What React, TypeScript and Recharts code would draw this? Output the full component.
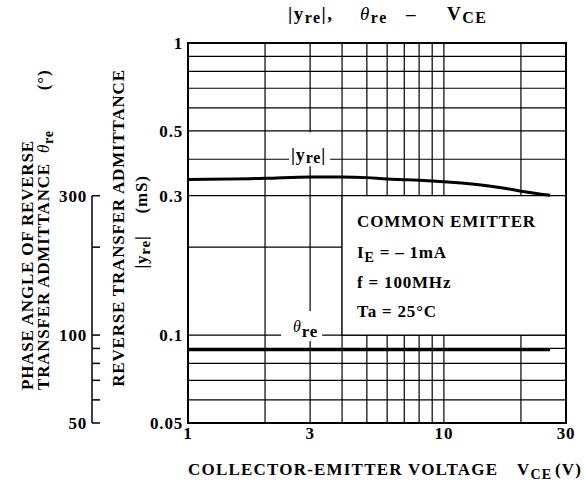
import { ComposedChart, Line, XAxis, YAxis, CartesianGrid, ReferenceArea, ReferenceDot } from 'recharts'

const SERIF = '"Liberation Serif", "Times New Roman", serif'

// collector-emitter voltage V_CE (V)
const vce = [1, 2, 3, 4, 5, 6, 7, 8, 9, 10, 17, 20, 26]
// |yre| (mS)
const yreMag = [0.341, 0.344, 0.348, 0.348, 0.346, 0.342, 0.3405, 0.339, 0.337, 0.335, 0.319, 0.311, 0.301]
// theta re (deg)
const thetaRe = [89, 89, 89, 89, 89, 89, 89, 89, 89, 89, 89, 89, 89]

const vTicks = [1, 2, 3, 4, 5, 6, 7, 8, 9, 10, 20, 30]
const vLabels = [1, 3, 10, 30]
const yTicks = [0.05, 0.06, 0.07, 0.08, 0.09, 0.1, 0.2, 0.3, 0.4, 0.5, 0.6, 0.7, 0.8, 0.9, 1]
const yLabels = [0.05, 0.1, 0.3, 0.5, 1]
const thetaTicks = [50, 60, 70, 80, 90, 100, 200, 300]
const thetaLabels = [50, 100, 300]

const data = vce.map((v, i) => ({ v, yre: yreMag[i], theta: thetaRe[i] }))

const txt = { fontFamily: SERIF, fontWeight: 700, fill: '#000', letterSpacing: 0.8 }

// tick y positions, filled in order so each tick can join the one below it
const thetaTickY: number[] = []

function ThetaTick(props: any) {
  const { x, y, payload, index } = props
  thetaTickY[index] = y
  const below = index > 0 ? thetaTickY[index - 1] : y
  return (
    <g>
      <line x1={x - 8} y1={y} x2={x} y2={y} stroke="#000" strokeWidth={1.5} />
      <line x1={x - 8} y1={y} x2={x - 8} y2={below} stroke="#000" strokeWidth={1.5} />
      {thetaLabels.includes(payload.value) && (
        <text x={x - 13} y={y + 6} textAnchor="end" fontSize={17} {...txt}>
          {payload.value}
        </text>
      )}
    </g>
  )
}

function ThetaAxisTitle({ viewBox }: any) {
  const b1 = viewBox.x + 33
  const b2 = viewBox.x + 49
  const y0 = 390
  return (
    <g fontSize={17} {...txt}>
      <text x={b1} y={y0} transform={`rotate(-90 ${b1} ${y0})`}>
        PHASE ANGLE OF REVERSE
      </text>
      <text x={b2} y={y0} transform={`rotate(-90 ${b2} ${y0})`}>
        TRANSFER ADMITTANCE
        <tspan dx={10} fontStyle="italic" fontWeight={400}>θ</tspan>
        <tspan dy={4} fontSize={14}>re</tspan>
        <tspan dx={40} dy={-4}>(°)</tspan>
      </text>
    </g>
  )
}

function MagAxisTitle({ viewBox }: any) {
  const b1 = viewBox.x + 24
  const b2 = viewBox.x + 47
  return (
    <g fontSize={17} {...txt}>
      <text x={b1} y={228} textAnchor="middle" transform={`rotate(-90 ${b1} 228)`}>
        REVERSE TRANSFER ADMITTANCE
      </text>
      <text x={b2} y={222} textAnchor="middle" transform={`rotate(-90 ${b2} 222)`}>
        |y<tspan dy={3} fontSize={15}>re</tspan>
        <tspan dy={-3}>|</tspan>
        <tspan dx={22}>(mS)</tspan>
      </text>
    </g>
  )
}

function XTitle({ viewBox }: any) {
  const { x, y } = viewBox
  return (
    <g fontSize={17} {...txt} letterSpacing={1.2}>
      <text x={x} y={y + 52}>COLLECTOR-EMITTER</text>
      <text x={x + 220} y={y + 52}>VOLTAGE</text>
      <text x={x + 329} y={y + 52}>
        V<tspan dy={4} fontSize={14}>CE</tspan>
      </text>
      <text x={x + 367} y={y + 52}>(V)</text>
    </g>
  )
}

function Conditions({ viewBox }: any) {
  const x = viewBox.x + 15
  const y = viewBox.y
  return (
    <g fontSize={17} {...txt}>
      <text x={x} y={y + 31}>COMMON EMITTER</text>
      <text x={x} y={y + 62}>
        I<tspan dy={4} fontSize={14}>E</tspan>
        <tspan dy={-4}> = – 1mA</tspan>
      </text>
      <text x={x} y={y + 92}>f = 100MHz</text>
      <text x={x} y={y + 121}>Ta = 25°C</text>
    </g>
  )
}

function YreTag({ cx, cy }: any) {
  return (
    <g>
      <rect x={cx - 21} y={cy - 27} width={41} height={34} fill="#fff" />
      <text x={cx - 19} y={cy + 2} fontSize={18} {...txt}>
        |y<tspan dy={2} fontSize={16}>re</tspan>
        <tspan dy={-2}>|</tspan>
      </text>
    </g>
  )
}

function ThetaTag({ cx, cy }: any) {
  return (
    <g>
      <rect x={cx - 29} y={cy - 24} width={41} height={30} fill="#fff" />
      <text x={cx - 17} y={cy - 3} fontSize={16} {...txt}>
        <tspan fontStyle="italic" fontWeight={400}>θ</tspan>
        <tspan dy={5} fontSize={17}>re</tspan>
      </text>
    </g>
  )
}

function Title() {
  return (
    <svg width={584} height={40} style={{ position: 'absolute', left: 0, top: 0 }}>
      <g fontSize={19} {...txt} letterSpacing={1.5}>
        <text x={288} y={20}>
          |y<tspan dy={3} fontSize={16}>re</tspan>
          <tspan dy={-3}>|,</tspan>
        </text>
        <text x={360} y={20}>
          <tspan fontStyle="italic" fontWeight={400}>θ</tspan>
          <tspan dy={3} fontSize={16}>re</tspan>
        </text>
        <text x={406} y={20}>–</text>
        <text x={447} y={20}>
          V<tspan dy={3} fontSize={16}>CE</tspan>
        </text>
      </g>
    </svg>
  )
}

export default function App() {
  return (
    <div style={{ position: 'absolute', left: 0, top: 0, width: 584, height: 490, background: '#fff' }}>
      <ComposedChart width={584} height={490} data={data} margin={{ top: 43, right: 18, bottom: 0, left: 0 }}>
        <CartesianGrid yAxisId="mag" stroke="#000" strokeWidth={1.2} />
        <XAxis
          dataKey="v"
          type="number"
          scale="log"
          domain={[1, 30]}
          allowDataOverflow
          ticks={vTicks}
          interval={0}
          tickFormatter={(v) => (vLabels.includes(v) ? String(v) : '')}
          tick={{ fontSize: 17, ...txt }}
          tickLine={false}
          axisLine={false}
          tickSize={0}
          tickMargin={4}
          height={67}
          label={XTitle}
        />
        <YAxis
          yAxisId="mag"
          width={88}
          scale="log"
          domain={[0.05, 1]}
          allowDataOverflow
          ticks={yTicks}
          interval={0}
          tickFormatter={(v) => (yLabels.includes(v) ? String(v) : '')}
          tick={{ fontSize: 17, ...txt }}
          tickLine={false}
          axisLine={false}
          tickSize={0}
          tickMargin={5}
          label={MagAxisTitle}
        />
        <YAxis
          yAxisId="theta"
          width={100}
          scale="log"
          domain={[50, 1000]}
          allowDataOverflow
          ticks={thetaTicks}
          interval={0}
          tick={ThetaTick}
          tickLine={false}
          axisLine={false}
          tickSize={0}
          tickMargin={0}
          label={ThetaAxisTitle}
        />
        <ReferenceArea
          yAxisId="mag"
          x1={4}
          x2={30}
          y1={0.1}
          y2={0.3}
          fill="#fff"
          fillOpacity={1}
          stroke="#000"
          strokeWidth={1.2}
          label={Conditions}
        />
        <ReferenceArea yAxisId="mag" x1={1} x2={30} y1={0.05} y2={1} fill="none" stroke="#000" strokeWidth={2} />
        <ReferenceDot yAxisId="mag" x={3} y={0.4} r={0} shape={YreTag} />
        <ReferenceDot yAxisId="mag" x={3} y={0.1} r={0} shape={ThetaTag} />
        <Line yAxisId="mag" dataKey="yre" type="monotone" stroke="#000" strokeWidth={3} dot={false} isAnimationActive={false} />
        <Line yAxisId="theta" dataKey="theta" type="monotone" stroke="#000" strokeWidth={3} dot={false} isAnimationActive={false} />
      </ComposedChart>
      <Title />
    </div>
  )
}
